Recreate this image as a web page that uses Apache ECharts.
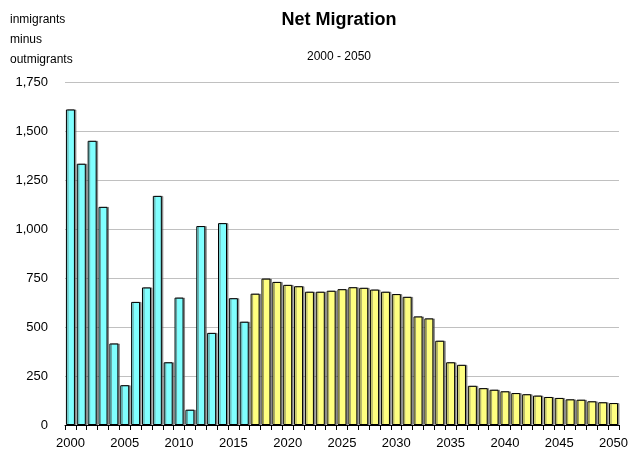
<!DOCTYPE html>
<html>
<head>
<meta charset="utf-8" />
<script src="https://cdn.jsdelivr.net/npm/echarts@6/dist/echarts.min.js"></script>
<title>Net Migration</title>
<style type="text/css">
* {margin:0; padding:0;}
body {background:#ffffff;}
#chart {width:631px; height:456px;}
</style>
</head>
<body>
<div id="chart"></div>
<script>
// years 2000 - 2050
var years = [];
for (var y = 2000; y <= 2050; y++) { years.push(String(y)); }

// estimates (2000-2016)
var estimates = [1610, 1333, 1450, 1113, 416, 203, 628, 702, 1169, 320, 650, 78, 1015, 470, 1030, 647, 527];
// projections (2017-2050)
var projections = [670, 747, 730, 715, 708, 680, 680, 685, 693, 703, 700, 691, 680, 668, 654, 554, 544, 430,
                   320, 307, 200, 188, 180, 172, 163, 157, 150, 143, 138, 131, 129, 121, 116, 112];

var yTicks = [0, 250, 500, 750, 1000, 1250, 1500, 1750];

var barData = [];
for (var i = 0; i < estimates.length; i++) {
	barData.push({value: estimates[i], itemStyle: {color: '#80ffff'}});
}
for (var j = 0; j < projections.length; j++) {
	barData.push({value: projections[j], itemStyle: {color: '#ffff80'}});
}

var chart = echarts.init(document.getElementById('chart'));
chart.setOption({
	animation: false,
	textStyle: {fontFamily: 'Liberation Sans, Arial, sans-serif'},
	title: {
		text: 'Net Migration',
		subtext: '2000 - 2050',
		left: 334,
		textAlign: 'center',
		top: 6,
		itemGap: 22,
		textStyle: {fontSize: 18, fontWeight: 'bold', color: '#000'},
		subtextStyle: {fontSize: 12, color: '#000'}
	},
	grid: {left: 65, right: 10, top: 82, bottom: 31, containLabel: false},
	xAxis: {
		type: 'category',
		data: years,
		boundaryGap: true,
		axisLine: {lineStyle: {color: '#000', width: 1}},
		axisTick: {show: true, interval: 0, length: 5, lineStyle: {color: '#000'}},
		axisLabel: {
			interval: 4,
			color: '#000',
			fontSize: 13,
			margin: 12
		}
	},
	yAxis: {
		type: 'value',
		min: yTicks[0],
		max: yTicks[yTicks.length - 1],
		interval: 250,
		name: 'inmigrants\nminus\noutmigrants',
		nameLocation: 'end',
		nameGap: 0,
		nameTextStyle: {
			color: '#000', fontSize: 12, lineHeight: 20,
			align: 'left', verticalAlign: 'bottom',
			padding: [0, 0, 6, -55]
		},
		axisLine: {show: false},
		axisTick: {show: false},
		splitLine: {lineStyle: {color: '#c0c0c0', width: 1}},
		axisLabel: {
			color: '#000',
			fontSize: 13,
			margin: 17,
			formatter: function (v) { return v.toLocaleString('en-US'); }
		}
	},
	series: [{
		type: 'bar',
		data: barData,
		barWidth: 9,
		itemStyle: {
			borderColor: '#000',
			borderWidth: 1,
			shadowColor: 'rgba(90,90,90,0.6)',
			shadowOffsetX: 1.5,
			shadowOffsetY: 0,
			shadowBlur: 0
		}
	}]
});
</script>
</body>
</html>
